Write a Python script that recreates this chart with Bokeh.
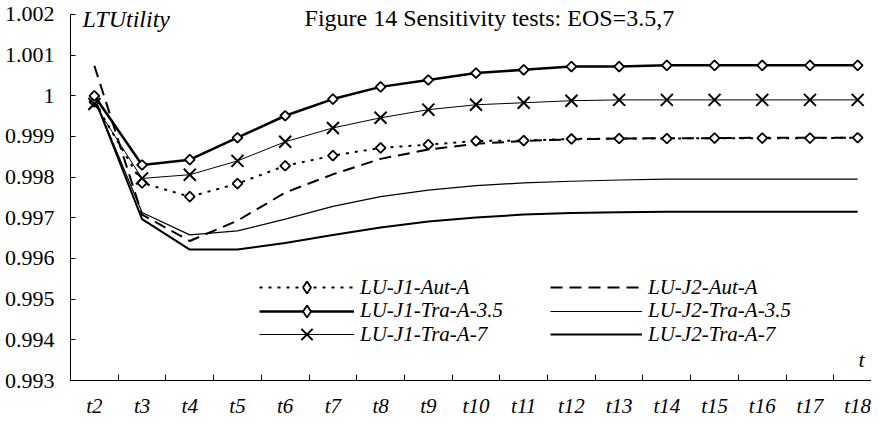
from bokeh.plotting import figure
from bokeh.models import FixedTicker, Range1d, Label, Legend, LegendItem
from bokeh.embed import file_html
from bokeh.resources import INLINE
import math

periods = ["t2", "t3", "t4", "t5", "t6", "t7", "t8", "t9", "t10", "t11",
           "t12", "t13", "t14", "t15", "t16", "t17", "t18"]

y_ticks = [0.993, 0.994, 0.995, 0.996, 0.997, 0.998, 0.999, 1.0, 1.001, 1.002]
y_tick_labels = ["0.993", "0.994", "0.995", "0.996", "0.997", "0.998", "0.999",
                 "1", "1.001", "1.002"]

lu_j1_aut_a = [0.99985, 0.99786, 0.99752, 0.99784, 0.99828, 0.99853, 0.99872, 0.99880,
               0.99889, 0.99890, 0.99894, 0.99895, 0.99895, 0.99896, 0.99896, 0.99896, 0.99897]
lu_j2_aut_a = [1.00074, 0.99708, 0.99643, 0.99693, 0.99762, 0.99807, 0.99845, 0.99868,
               0.99882, 0.99889, 0.99893, 0.99895, 0.99896, 0.99896, 0.99897, 0.99897, 0.99897]
lu_j1_tra_a_35 = [1.00000, 0.99830, 0.99843, 0.99897, 0.99951, 0.99992, 1.00022, 1.00039,
                  1.00056, 1.00064, 1.00072, 1.00072, 1.00075, 1.00075, 1.00075, 1.00075, 1.00075]
lu_j2_tra_a_35 = [0.99995, 0.99713, 0.99658, 0.99668, 0.99697, 0.99728, 0.99752, 0.99768,
                  0.99779, 0.99786, 0.99790, 0.99793, 0.99795, 0.99795, 0.99795, 0.99795, 0.99795]
lu_j1_tra_a_7 = [0.99980, 0.99797, 0.99806, 0.99840, 0.99887, 0.99921, 0.99946, 0.99966,
                 0.99978, 0.99983, 0.99988, 0.99990, 0.99990, 0.99990, 0.99990, 0.99990, 0.99990]
lu_j2_tra_a_7 = [0.99995, 0.99697, 0.99622, 0.99622, 0.99638, 0.99658, 0.99676, 0.99691,
                 0.99701, 0.99708, 0.99712, 0.99714, 0.99715, 0.99715, 0.99715, 0.99715, 0.99715]

x = list(range(len(periods)))
FONT = "Liberation Serif"

p = figure(frame_width=801, frame_height=380, output_backend="svg", toolbar_location=None,
           x_range=Range1d(-0.5, 16.29), y_range=Range1d(0.993, 1.0023442),
           min_border_left=70, min_border_right=0, min_border_top=0, min_border_bottom=0)
p.outline_line_color = None
p.xgrid.visible = False
p.ygrid.visible = False
p.background_fill_color = "white"

# lines and markers
r_j2_7 = p.line(x, lu_j2_tra_a_7, line_color="black", line_width=2)
r_j2_35 = p.line(x, lu_j2_tra_a_35, line_color="black", line_width=1.2)
r_j2_aut = p.line(x, lu_j2_aut_a, line_color="black", line_width=2, line_dash="12 7")
r_j1_aut = p.line(x, lu_j1_aut_a, line_color="black", line_width=2, line_dash="3 6")
p.scatter(x, lu_j1_aut_a, marker="square", angle=math.pi / 4, size=7,
          line_color="black", line_width=1.8, fill_color="white")
r_j1_7 = p.line(x, lu_j1_tra_a_7, line_color="black", line_width=1)
r_j1_7_m = p.scatter(x, lu_j1_tra_a_7, marker="x", size=17, line_color="black", line_width=2)
r_j1_35 = p.line(x, lu_j1_tra_a_35, line_color="black", line_width=2.5)
p.scatter(x, lu_j1_tra_a_35, marker="square", angle=math.pi / 4, size=7,
          line_color="black", line_width=1.8, fill_color="white")

# diamond key for the legend: drawn at zero size in the plot, legend sizes its own key
r_key_diamond = p.scatter(x, lu_j1_tra_a_35, marker="diamond", size=0,
                          line_color="black", line_width=1.8, fill_color="white")

# x axis
xa = p.xaxis[0]
xa.ticker = FixedTicker(ticks=x, minor_ticks=[i - 0.5 for i in range(len(periods) + 1)])
xa.major_label_overrides = {i: lab for i, lab in zip(x, periods)}
xa.major_tick_in = 0
xa.major_tick_out = 0
xa.minor_tick_in = 6
xa.minor_tick_out = 0
xa.minor_tick_line_color = "black"
xa.axis_line_color = "black"
xa.major_label_text_font = FONT
xa.major_label_text_font_style = "italic"
xa.major_label_text_font_size = "21px"
xa.major_label_text_color = "black"
xa.major_label_standoff = 13

# y axis
ya = p.yaxis[0]
ya.ticker = FixedTicker(ticks=y_ticks, minor_ticks=[])
ya.bounds = (0.993, 1.002)
ya.major_label_overrides = {v: lab for v, lab in zip(y_ticks, y_tick_labels)}
ya.major_tick_in = 5
ya.major_tick_out = 0
ya.major_tick_line_color = "black"
ya.axis_line_color = "black"
ya.major_label_text_font = FONT
ya.major_label_text_font_size = "22px"
ya.major_label_text_color = "black"
ya.major_label_standoff = 16

# texts
p.add_layout(Label(x=8.28, y=1.00192, text="Figure 14 Sensitivity tests: EOS=3.5,7",
                   text_font=FONT, text_font_size="24px", text_align="center",
                   text_baseline="middle", text_color="black"))
p.add_layout(Label(x=-0.25, y=1.00188, text="LTUtility", text_font=FONT,
                   text_font_style="italic", text_font_size="24px", text_align="left",
                   text_baseline="middle", text_color="black"))
p.add_layout(Label(x=16.08, y=0.99351, text="t", text_font=FONT,
                   text_font_style="italic", text_font_size="22px", text_align="center",
                   text_baseline="middle", text_color="black"))

# legends: one per entry, arranged in two columns of three rows
def make_legend(item, loc, gw, gh):
    return Legend(items=[item], location=loc, orientation="vertical",
                  glyph_width=gw, glyph_height=gh, label_height=gh, spacing=0,
                  padding=0, margin=0, label_standoff=6, border_line_color=None,
                  background_fill_alpha=0, label_text_font=FONT,
                  label_text_font_style="italic", label_text_font_size="21px",
                  label_text_color="black")

row_center = [93, 69.5, 46]   # pixels above the x axis
col1 = [
    (LegendItem(label="LU-J1-Aut-A", renderers=[r_j1_aut, r_key_diamond]), 30),
    (LegendItem(label="LU-J1-Tra-A-3.5", renderers=[r_j1_35, r_key_diamond]), 30),
    (LegendItem(label="LU-J1-Tra-A-7", renderers=[r_j1_7, r_j1_7_m]), 40),
]
col2 = [
    (LegendItem(label="LU-J2-Aut-A", renderers=[r_j2_aut]), 30),
    (LegendItem(label="LU-J2-Tra-A-3.5", renderers=[r_j2_35]), 30),
    (LegendItem(label="LU-J2-Tra-A-7", renderers=[r_j2_7]), 30),
]
for (it, gh), yc in zip(col1, row_center):
    p.add_layout(make_legend(it, (189, yc - gh / 2), 95, gh), "center")
for (it, gh), yc in zip(col2, row_center):
    p.add_layout(make_legend(it, (480, yc - gh / 2), 92, gh), "center")

open("out.html", "w").write(file_html(p, INLINE))
